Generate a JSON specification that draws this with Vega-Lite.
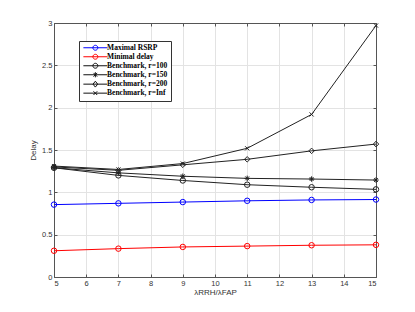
{
  "$schema": "https://vega.github.io/schema/vega-lite/v6.json",
  "width": 322,
  "height": 254,
  "autosize": "none",
  "padding": {"left": 54, "top": 23, "right": 39, "bottom": 35},
  "background": "white",
  "config": {
    "view": {"stroke": "#555555"},
    "axis": {
      "labelFont": "Liberation Sans",
      "labelFontSize": 7.5,
      "labelColor": "#333333",
      "titleFont": "Liberation Sans",
      "titleFontSize": 8,
      "titleFontWeight": "normal",
      "titleColor": "#333333",
      "domainColor": "#555555",
      "tickColor": "#555555",
      "gridColor": "#e3e3e3",
      "tickSize": -3,
      "labelPadding": 5
    }
  },
  "data": {
    "values": [
      {"x": 5, "v": 0.855, "s": "Maximal RSRP"},
      {"x": 7, "v": 0.87, "s": "Maximal RSRP"},
      {"x": 9, "v": 0.885, "s": "Maximal RSRP"},
      {"x": 11, "v": 0.9, "s": "Maximal RSRP"},
      {"x": 13, "v": 0.91, "s": "Maximal RSRP"},
      {"x": 15, "v": 0.915, "s": "Maximal RSRP"},
      {"x": 5, "v": 0.31, "s": "Minimal delay"},
      {"x": 7, "v": 0.335, "s": "Minimal delay"},
      {"x": 9, "v": 0.355, "s": "Minimal delay"},
      {"x": 11, "v": 0.365, "s": "Minimal delay"},
      {"x": 13, "v": 0.375, "s": "Minimal delay"},
      {"x": 15, "v": 0.38, "s": "Minimal delay"},
      {"x": 5, "v": 1.29, "s": "Benchmark, r=100"},
      {"x": 7, "v": 1.2, "s": "Benchmark, r=100"},
      {"x": 9, "v": 1.14, "s": "Benchmark, r=100"},
      {"x": 11, "v": 1.09, "s": "Benchmark, r=100"},
      {"x": 13, "v": 1.06, "s": "Benchmark, r=100"},
      {"x": 15, "v": 1.035, "s": "Benchmark, r=100"},
      {"x": 5, "v": 1.29, "s": "Benchmark, r=150"},
      {"x": 7, "v": 1.23, "s": "Benchmark, r=150"},
      {"x": 9, "v": 1.19, "s": "Benchmark, r=150"},
      {"x": 11, "v": 1.165, "s": "Benchmark, r=150"},
      {"x": 13, "v": 1.157, "s": "Benchmark, r=150"},
      {"x": 15, "v": 1.145, "s": "Benchmark, r=150"},
      {"x": 5, "v": 1.3, "s": "Benchmark, r=200"},
      {"x": 7, "v": 1.26, "s": "Benchmark, r=200"},
      {"x": 9, "v": 1.325, "s": "Benchmark, r=200"},
      {"x": 11, "v": 1.39, "s": "Benchmark, r=200"},
      {"x": 13, "v": 1.49, "s": "Benchmark, r=200"},
      {"x": 15, "v": 1.57, "s": "Benchmark, r=200"},
      {"x": 5, "v": 1.31, "s": "Benchmark, r=Inf"},
      {"x": 7, "v": 1.27, "s": "Benchmark, r=Inf"},
      {"x": 9, "v": 1.34, "s": "Benchmark, r=Inf"},
      {"x": 11, "v": 1.52, "s": "Benchmark, r=Inf"},
      {"x": 13, "v": 1.92, "s": "Benchmark, r=Inf"},
      {"x": 15, "v": 2.97, "s": "Benchmark, r=Inf"}
    ]
  },
  "layer": [
    {
      "mark": {"type": "line", "strokeWidth": 1},
      "encoding": {
        "x": {
          "field": "x", "type": "quantitative",
          "scale": {"domain": [5, 15], "nice": false},
          "axis": {"values": [5, 6, 7, 8, 9, 10, 11, 12, 13, 14, 15], "title": "λRRH/λFAP", "titlePadding": 2}
        },
        "y": {
          "field": "v", "type": "quantitative",
          "scale": {"domain": [0, 3], "nice": false},
          "axis": {"values": [0, 0.5, 1, 1.5, 2, 2.5, 3], "format": "~g", "title": "Delay", "titlePadding": 4}
        },
        "stroke": {
          "field": "s", "type": "nominal",
          "scale": {
            "domain": ["Maximal RSRP", "Minimal delay", "Benchmark, r=100", "Benchmark, r=150", "Benchmark, r=200", "Benchmark, r=Inf"],
            "range": ["#0000ff", "#ff0000", "#222222", "#222222", "#222222", "#222222"]
          },
          "legend": null
        }
      }
    },
    {
      "mark": {"type": "point", "filled": false, "opacity": 0, "size": 22},
      "encoding": {
        "x": {
          "field": "x", "type": "quantitative",
          "axis": {"orient": "top", "values": [5, 6, 7, 8, 9, 10, 11, 12, 13, 14, 15], "labels": false, "grid": false, "title": null}
        },
        "y": {
          "field": "v", "type": "quantitative",
          "axis": {"orient": "right", "values": [0, 0.5, 1, 1.5, 2, 2.5, 3], "labels": false, "grid": false, "title": null}
        },
        "stroke": {
          "field": "s", "type": "nominal",
          "scale": {
            "domain": ["Maximal RSRP", "Minimal delay", "Benchmark, r=100", "Benchmark, r=150", "Benchmark, r=200", "Benchmark, r=Inf"],
            "range": ["#0000ff", "#ff0000", "#111111", "#111111", "#111111", "#111111"]
          },
          "legend": {
            "orient": "none", "legendX": 25, "legendY": 18,
            "title": null, "symbolSize": 22, "symbolStrokeWidth": 1, "symbolOffset": 9.6,
            "symbolFillColor": "transparent", "symbolOpacity": 1,
            "labelFont": "Liberation Serif", "labelFontWeight": "bold", "labelFontSize": 7.5, "labelColor": "#000000",
            "labelOffset": 8, "rowPadding": -1.6, "padding": 3,
            "fillColor": "white", "strokeColor": "#333333"
          }
        },
        "shape": {
          "field": "s", "type": "nominal",
          "scale": {
            "domain": ["Maximal RSRP", "Minimal delay", "Benchmark, r=100", "Benchmark, r=150", "Benchmark, r=200", "Benchmark, r=Inf"],
            "range": [
              "M-5.1,0L5.1,0M1.05,0A1.05,1.05 0 1,1 -1.05,0A1.05,1.05 0 1,1 1.05,0",
              "M-5.1,0L5.1,0M1.05,0A1.05,1.05 0 1,1 -1.05,0A1.05,1.05 0 1,1 1.05,0",
              "M-5.1,0L5.1,0M1.05,0A1.05,1.05 0 1,1 -1.05,0A1.05,1.05 0 1,1 1.05,0",
              "M-5.1,0L5.1,0M0,-1.1L0,1.1M-0.78,-0.78L0.78,0.78M-0.78,0.78L0.78,-0.78",
              "M-5.1,0L5.1,0M0,-1.25L1,0L0,1.25L-1,0Z",
              "M-5.1,0L5.1,0M-0.8,-0.8L0.8,0.8M-0.8,0.8L0.8,-0.8"
            ]
          },
          "legend": {
            "orient": "none", "legendX": 25, "legendY": 18,
            "title": null, "symbolSize": 22, "symbolStrokeWidth": 1, "symbolOffset": 9.6,
            "symbolFillColor": "transparent", "symbolOpacity": 1,
            "labelFont": "Liberation Serif", "labelFontWeight": "bold", "labelFontSize": 7.5, "labelColor": "#000000",
            "labelOffset": 8, "rowPadding": -1.6, "padding": 3,
            "fillColor": "white", "strokeColor": "#333333"
          }
        }
      }
    },
    {
      "mark": {"type": "point", "filled": false, "strokeWidth": 1, "size": 30, "opacity": 1},
      "encoding": {
        "x": {"field": "x", "type": "quantitative", "axis": null},
        "y": {"field": "v", "type": "quantitative", "axis": null},
        "stroke": {
          "field": "s", "type": "nominal",
          "scale": {
            "domain": ["Maximal RSRP", "Minimal delay", "Benchmark, r=100", "Benchmark, r=150", "Benchmark, r=200", "Benchmark, r=Inf"],
            "range": ["#0000ff", "#ff0000", "#222222", "#222222", "#222222", "#222222"]
          },
          "legend": null
        },
        "shape": {
          "field": "s", "type": "nominal",
          "scale": {
            "domain": ["Maximal RSRP", "Minimal delay", "Benchmark, r=100", "Benchmark, r=150", "Benchmark, r=200", "Benchmark, r=Inf"],
            "range": ["circle", "circle", "circle", "M0,-1L0,1M-1,0L1,0M-0.7,-0.7L0.7,0.7M-0.7,0.7L0.7,-0.7", "diamond", "M-0.75,-0.75L0.75,0.75M-0.75,0.75L0.75,-0.75"]
          },
          "legend": null
        }
      }
    }
  ],
  "resolve": {
    "axis": {"x": "independent", "y": "independent"},
    "scale": {"stroke": "independent", "shape": "independent"}
  }
}
